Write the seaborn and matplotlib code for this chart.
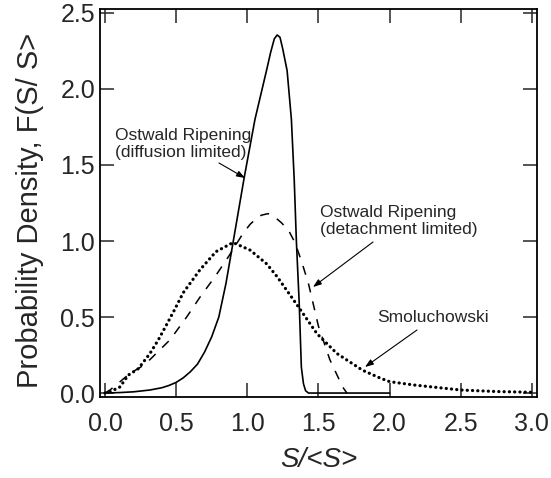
import matplotlib
matplotlib.use("Agg")
import matplotlib.pyplot as plt
import seaborn as sns
import pandas as pd

# Ostwald ripening, diffusion limited (solid)
diff_x = [0.0, 0.1, 0.2, 0.316, 0.4, 0.45, 0.5, 0.55, 0.6, 0.65, 0.7, 0.75, 0.8, 0.85, 0.9,
          0.977, 1.054, 1.136, 1.164, 1.19, 1.21, 1.23, 1.25, 1.28, 1.31, 1.33, 1.345,
          1.365, 1.38, 1.395, 1.41, 1.43, 1.5, 2.0]
diff_y = [0.0, 0.003, 0.008, 0.02, 0.035, 0.05, 0.07, 0.10, 0.14, 0.19, 0.27, 0.37, 0.50,
          0.72, 0.99, 1.41, 1.80, 2.125, 2.24, 2.33, 2.355, 2.34, 2.26, 2.12, 1.80, 1.40,
          1.0, 0.59, 0.17, 0.06, 0.015, 0.0, 0.0, 0.0]

# Ostwald ripening, detachment limited (dashed)
det_x = [0.0, 0.035, 0.1, 0.176, 0.25, 0.316, 0.457, 0.574, 0.667, 0.773, 0.87, 0.97,
         1.02, 1.066, 1.10, 1.146, 1.19, 1.24, 1.29, 1.335, 1.38, 1.43, 1.50, 1.58, 1.67, 1.70]
det_y = [0.0, 0.02, 0.07, 0.13, 0.17, 0.22, 0.35, 0.50, 0.63, 0.765, 0.90, 1.05,
         1.11, 1.15, 1.17, 1.18, 1.16, 1.12, 1.07, 0.99, 0.87, 0.72, 0.44, 0.22, 0.04, 0.0]

# Smoluchowski (dotted)
smol_x = [0.0, 0.05, 0.105, 0.164, 0.234, 0.316, 0.375, 0.433, 0.49, 0.55, 0.667, 0.78,
          0.90, 1.02, 1.136, 1.21, 1.357, 1.49, 1.63, 1.81, 1.93, 2.0, 2.17, 2.5, 2.75, 3.0]
smol_y = [0.0, 0.015, 0.04, 0.118, 0.16, 0.26, 0.35, 0.45, 0.55, 0.66, 0.81, 0.93,
          0.99, 0.94, 0.85, 0.765, 0.57, 0.39, 0.26, 0.15, 0.10, 0.075, 0.053, 0.02, 0.01, 0.005]

x_ticks = [0.0, 0.5, 1.0, 1.5, 2.0, 2.5, 3.0]
y_ticks = [0.0, 0.5, 1.0, 1.5, 2.0, 2.5]

sns.set_style("ticks")
plt.rcParams["font.family"] = ["Liberation Sans", "DejaVu Sans"]

fig = plt.figure(figsize=(5.51, 4.78), dpi=100)
ax = fig.add_axes([100 / 551, 1 - 397 / 478, 437 / 551, 388 / 478])

df_d = pd.DataFrame({"x": diff_x, "y": diff_y})
df_w = pd.DataFrame({"x": det_x, "y": det_y})
df_s = pd.DataFrame({"x": smol_x, "y": smol_y})

sns.lineplot(data=df_d, x="x", y="y", ax=ax, color="black", linewidth=1.2,
             estimator=None, sort=False)
sns.lineplot(data=df_w, x="x", y="y", ax=ax, color="black", linewidth=1.1,
             estimator=None, sort=False)
sns.lineplot(data=df_s, x="x", y="y", ax=ax, color="black", linewidth=2.3,
             estimator=None, sort=False)
lines = ax.get_lines()
lines[0].set_solid_joinstyle("round")
lines[1].set_linestyle((0, (6, 6)))
lines[2].set_linestyle((0, (0.05, 1.6)))
lines[2].set_dash_capstyle("round")

ax.set_xlim(-0.035, 3.036)
ax.set_ylim(-0.026, 2.526)
ax.set_xticks(x_ticks)
ax.set_yticks(y_ticks)
ax.set_xticklabels([f"{v:.1f}" for v in x_ticks])
ax.set_yticklabels([f"{v:.1f}" for v in y_ticks])
ax.tick_params(axis="both", direction="in", length=10, width=1.1, labelsize=18,
               top=True, right=True)
ax.tick_params(axis="x", pad=11)
ax.tick_params(axis="y", pad=3.5)
for s in ax.spines.values():
    s.set_visible(True)
    s.set_linewidth(1.3)
    s.set_color("black")

ax.set_xlabel("")
ax.set_ylabel("")
fig.text(319 / 551, 1 - 460 / 478, "S/<S>", fontsize=20, style="italic",
         ha="center", va="center")
fig.text(30 / 551, 1 - 210 / 478, "Probability Density, F(S/ S>", fontsize=21,
         rotation=90, ha="center", va="center")

arrow = dict(arrowstyle="-|>,head_length=0.5,head_width=0.18", color="black", lw=0.8,
             shrinkA=0, shrinkB=0)

def px(xp, yp):
    return (xp / 551, 1 - yp / 478)

ax.annotate("Ostwald Ripening\n(diffusion limited)", xy=px(115, 144), xycoords="figure fraction",
            fontsize=12.5, ha="left", va="center", linespacing=1.15)
ax.annotate("", xy=px(245, 178), xycoords="figure fraction",
            xytext=px(219, 163), textcoords="figure fraction", arrowprops=arrow)

ax.annotate("Ostwald Ripening\n(detachment limited)", xy=px(320, 221), xycoords="figure fraction",
            fontsize=12.5, ha="left", va="center", linespacing=1.15)
ax.annotate("", xy=px(313, 287), xycoords="figure fraction",
            xytext=px(373, 242), textcoords="figure fraction", arrowprops=arrow)

ax.annotate("Smoluchowski", xy=px(377, 318), xycoords="figure fraction",
            fontsize=12.5, ha="left", va="center")
ax.annotate("", xy=px(365, 367), xycoords="figure fraction",
            xytext=px(417, 330), textcoords="figure fraction", arrowprops=arrow)

fig.savefig("out.png", dpi=100)
